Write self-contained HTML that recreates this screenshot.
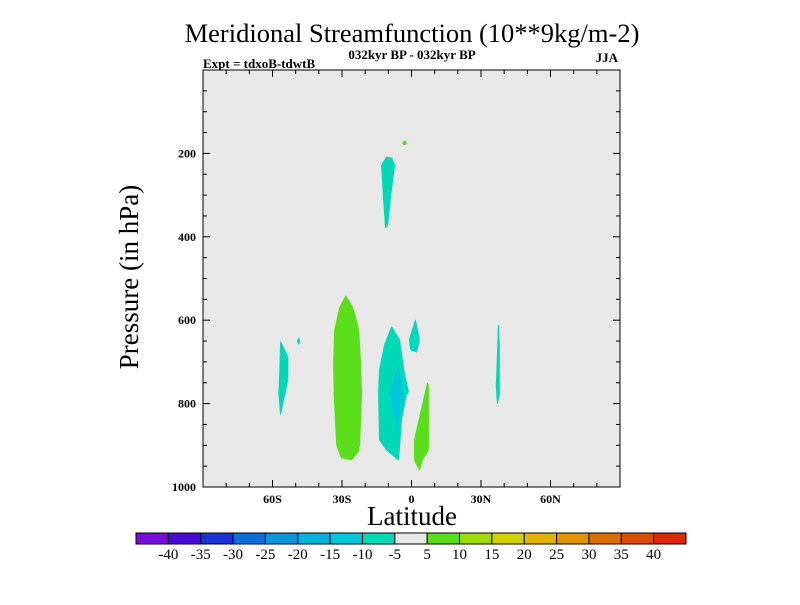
<!DOCTYPE html>
<html><head><meta charset="utf-8"><style>
body{margin:0;background:#fff;}
svg text{font-family:"Liberation Serif",serif;}
</style></head><body>
<svg width="800" height="600" xmlns="http://www.w3.org/2000/svg">
<text x="412" y="42" font-size="26.5" text-anchor="middle">Meridional Streamfunction (10**9kg/m-2)</text>
<text x="412" y="59" font-size="13" text-anchor="middle" font-weight="bold">032kyr BP - 032kyr BP</text>
<text x="203" y="68" font-size="13" font-weight="bold">Expt = tdxoB-tdwtB</text>
<text x="618" y="62" font-size="13" font-weight="bold" text-anchor="end">JJA</text>
<rect x="203" y="70" width="417" height="417" fill="#e8e8e8"/>
<g id="blobs"></g>
<g id="axes"></g>
<rect x="203" y="70" width="417" height="417" fill="none" stroke="#000" stroke-width="1"/>
<text x="138" y="277" font-size="27" text-anchor="middle" transform="rotate(-90 138 277)">Pressure (in hPa)</text>
<text x="412" y="525" font-size="27" text-anchor="middle">Latitude</text>
<g id="cbar"></g>
</svg>
<script>
const latTicks=[-60,-30,0,30,60];
const latTickLabels=["60S","30S","0","30N","60N"];
const presTicks=[200,400,600,800,1000];
const cbLevels=[-40,-35,-30,-25,-20,-15,-10,-5,5,10,15,20,25,30,35,40];
const cbColors=["#7a0adc","#4a0adc","#1e32dc","#0a6edc","#0a96dc","#00b4dc","#00c8d8","#00d8b8","#e8e8e8","#5ade1a","#a0dc00","#d2d200","#e0b400","#e09600","#dc6e00","#dc4a00","#dc2800"];
// contour regions: [color, lats, pressures]
const blobColors=["#5ade1a","#00d8b8","#00c8d8","#00d8b8","#5ade1a","#00d8b8","#00d8b8","#00d8b8","#00d8b8"];
const blobLats=[
[-28.4,-31.0,-33.2,-33.6,-33.4,-32.3,-30.2,-25.9,-23.0,-22.4,-21.6,-22.0,-22.8,-24.5,-25.9],
[-8.6,-11.6,-13.8,-14.2,-13.8,-10.8,-5.6,-4.3,-2.2,-1.3,-3.0,-5.2],
[-5.6,-9.5,-6.0,-3.4],
[1.7,-0.9,-0.4,2.2,3.4],
[6.9,1.3,1.3,3.4,4.7,7.3,7.3],
[-56.5,-56.9,-57.3,-56.5,-55.2,-53.4,-53.4],
[37.5,36.6,37.1,37.9,37.9],
[-10.8,-12.9,-12.1,-11.2,-10.3,-9.1,-7.3,-8.6],
[-49.2,-48.7,-48.2,-48.7]];
const blobPres=[
[542,570,624,700,775,899,930,935,915,899,775,700,624,585,564],
[616,659,719,775,887,911,935,839,779,772,731,647],
[712,775,856,775],
[600,647,671,676,647],
[751,887,935,959,935,911,755],
[652,731,775,825,791,743,688],
[612,760,799,780,660],
[209,228,307,379,372,307,228,211],
[650,643,650,657]];
const dotLat=[-3.0], dotPres=[175];
const NS="http://www.w3.org/2000/svg";
const X0=203,X1=620,Y0=70,Y1=487;
const xs=l=>X0+(l+90)/180*(X1-X0);
const ys=p=>Y0+p/1000*(Y1-Y0);
function mk(t,a,parent){const e=document.createElementNS(NS,t);for(const k in a)e.setAttribute(k,a[k]);parent.appendChild(e);return e;}
const gb=document.getElementById('blobs');
blobLats.forEach((lats,i)=>{
 const pts=lats.map((l,j)=>xs(l).toFixed(1)+","+ys(blobPres[i][j]).toFixed(1)).join(" ");
 const e=mk('polygon',{points:pts,fill:blobColors[i],stroke:blobColors[i],"stroke-width":1,"stroke-linejoin":"round"},gb);
 
 
});
dotLat.forEach((l,i)=>{
 const e=mk('circle',{cx:xs(l),cy:ys(dotPres[i]),r:2.2,fill:"#5ade1a"},gb);
 
 
});
const ga=document.getElementById('axes');
for(let l=-80;l<=80;l+=10){
 const x=xs(l),maj=(l%30===0);const len=maj?7:4;
 let e=mk('line',{x1:x,x2:x,y1:Y1,y2:Y1-len,stroke:"#000"},ga);
 
 e=mk('line',{x1:x,x2:x,y1:Y0,y2:Y0+len,stroke:"#000"},ga);
 
}
latTicks.forEach((l,i)=>{
 const t=mk('text',{x:xs(l),y:503,"font-size":12,"font-weight":"bold","text-anchor":"middle"},ga);
 t.textContent=latTickLabels[i];
 
});
for(let p=50;p<1000;p+=50){
 const y=ys(p),maj=(p%200===0);const len=maj?7:4;
 let e=mk('line',{x1:X0,x2:X0+len,y1:y,y2:y,stroke:"#000"},ga);
 
 e=mk('line',{x1:X1,x2:X1-len,y1:y,y2:y,stroke:"#000"},ga);
 
}
presTicks.forEach(p=>{
 const t=mk('text',{x:196,y:ys(p)+4,"font-size":12,"font-weight":"bold","text-anchor":"end"},ga);
 t.textContent=p;
 
});
const gc=document.getElementById('cbar');
const CX=136,CW=550,CY=533,CH=11,n=cbColors.length,bw=CW/n;
cbColors.forEach((c,i)=>{
 const e=mk('rect',{x:CX+i*bw,y:CY,width:bw,height:CH,fill:c,stroke:"#000","stroke-width":1},gc);
 
});
cbLevels.forEach((v,i)=>{
 const t=mk('text',{x:CX+(i+1)*bw,y:CY+CH+15,"font-size":15,"text-anchor":"middle"},gc);
 t.textContent=v;
 
});
</script>
</body></html>
